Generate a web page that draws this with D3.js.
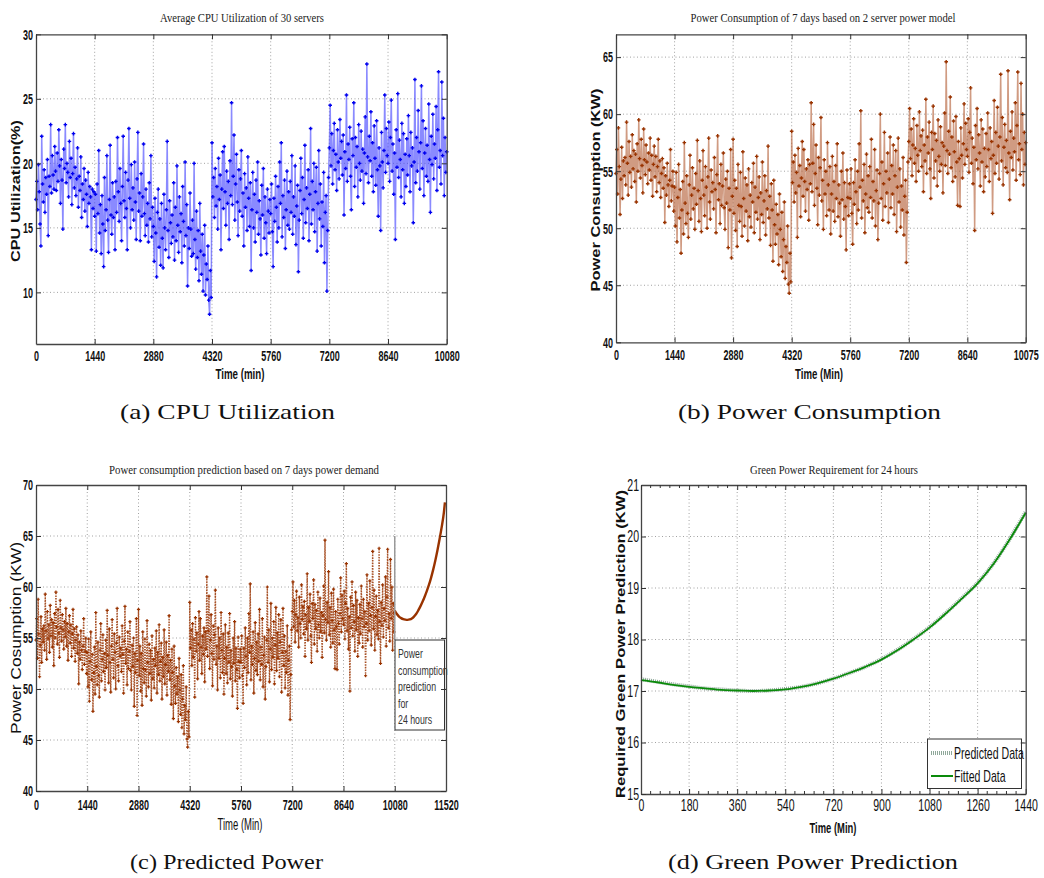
<!DOCTYPE html>
<html><head><meta charset="utf-8">
<script src="https://cdn.jsdelivr.net/npm/d3@7"></script>
<style>
html,body{margin:0;padding:0;background:#fff;}
svg{display:block;}
</style></head>
<body>
<svg id="c" width="1044" height="878"></svg>
<script>
// ---------------- DATA ----------------
const cpuTicksX = [0,1440,2880,4320,5760,7200,8640,10080];
const cpuTicksY = [10,15,20,25,30];
// Average CPU utilization (%) sampled every 20 min, 7 days (72 per day)
const cpuDay1 = [17.2,18.6,16.4,19.9,17.8,15.3,13.6,22.1,18.4,17.0,19.5,16.2,18.9,17.6,20.3,14.4,19.0,18.2,23.0,17.7,20.6,19.1,18.0,21.3,
 19.4,17.9,20.8,18.6,22.6,19.8,16.9,20.3,18.7,14.9,21.1,19.6,23.0,18.5,20.0,19.3,17.4,21.7,18.9,20.4,16.8,19.2,22.3,18.1,
 19.7,17.5,18.8,21.2,16.6,19.0,17.9,20.5,15.8,18.4,17.2,19.6,16.3,18.7,17.6,15.1,19.3,16.9,18.2,17.4,13.3,18.0,16.5,17.8];
const cpuDay2 = [15.9,17.6,13.2,18.4,16.1,21.0,14.6,16.8,13.0,17.5,15.3,12.0,18.9,14.8,16.4,20.6,15.6,13.1,17.2,21.4,16.0,14.5,18.5,15.8,
 17.4,13.3,18.6,16.2,22.0,17.8,15.5,19.6,16.9,14.0,18.2,22.1,17.1,15.8,19.3,16.5,13.3,18.7,22.7,17.3,15.0,19.9,16.4,18.1,
 15.6,20.1,17.0,14.1,18.8,22.4,16.3,17.7,14.0,19.2,15.9,17.4,21.5,16.1,14.4,18.0,15.2,16.9,13.9,18.5,15.7,20.6,14.3,16.6];
const cpuDay3 = [15.1,12.4,17.3,14.6,11.2,16.2,18.0,13.5,15.7,12.1,16.9,14.2,11.9,17.6,15.0,13.3,16.4,21.7,14.8,12.7,17.1,15.4,13.8,16.0,
 14.3,18.5,12.5,16.6,14.0,19.8,15.2,13.1,17.4,14.7,16.1,12.3,18.2,15.5,13.6,20.1,14.4,16.8,10.5,15.0,13.4,17.7,14.9,12.8,
 15.6,13.0,20.0,14.1,11.8,16.3,12.7,14.8,10.9,16.9,13.2,11.4,14.5,10.1,12.9,15.2,9.8,12.2,11.0,13.6,9.4,8.3,11.7,9.6];
const cpuDay4 = [21.6,17.4,18.9,15.8,19.6,16.7,18.2,14.9,20.4,17.2,19.1,13.3,18.0,20.9,16.5,21.3,17.8,15.2,19.4,16.9,18.6,14.1,20.2,17.5,
 24.7,16.8,19.0,22.2,15.6,18.4,20.7,17.0,14.4,19.5,16.3,18.8,21.0,15.9,17.7,13.6,19.2,16.6,18.1,14.8,20.5,17.3,15.1,18.5,
 11.7,16.4,19.3,15.0,17.6,13.9,18.7,16.2,20.1,14.5,17.1,15.7,12.9,18.3,16.0,19.6,14.2,17.4,15.4,13.0,18.0,16.3,14.6,17.2];
const cpuDay5 = [16.1,18.4,14.7,12.0,17.3,15.5,19.0,16.6,13.9,18.2,15.0,20.1,16.9,21.6,14.3,17.5,15.8,18.7,13.4,16.4,19.4,15.2,17.8,14.9,
 18.6,16.2,20.6,14.5,17.4,15.9,19.8,13.7,16.7,18.3,11.6,15.6,17.9,20.4,16.1,18.9,14.2,17.2,21.4,15.4,18.1,16.5,19.5,14.0,
 17.6,22.7,15.3,18.6,16.4,20.0,14.7,17.8,19.7,13.2,16.9,21.0,15.7,18.4,13.6,17.0,15.1,19.3,12.3,16.2,17.5,10.1,14.8,18.9];
const cpuDay6 = [21.2,24.5,19.8,22.3,18.4,21.0,23.1,19.5,20.7,17.9,22.6,20.1,18.8,23.4,20.4,21.7,19.1,22.2,16.0,20.9,19.6,25.3,18.6,21.5,
 20.3,22.8,19.0,16.4,21.9,20.6,24.7,18.2,22.0,19.7,21.3,17.4,23.0,20.0,18.7,22.5,19.4,21.1,16.9,20.8,23.6,19.2,27.7,20.5,
 18.5,22.1,20.2,24.0,19.0,21.6,17.8,22.9,20.4,18.3,23.3,19.5,15.9,21.2,19.8,14.8,22.4,20.1,18.1,21.0,25.3,19.3,22.7,20.6];
const cpuDay7 = [20.0,23.2,18.6,22.0,24.9,19.4,21.5,17.6,20.8,14.1,22.6,19.7,25.4,18.9,21.8,20.3,17.4,23.1,19.5,22.3,16.9,20.7,18.2,21.9,
 19.1,23.7,20.6,17.8,22.4,19.8,21.2,15.4,20.1,26.5,18.5,22.0,19.4,24.1,20.9,18.0,21.6,26.0,19.6,23.3,17.5,20.8,22.7,19.0,
 21.4,18.6,24.6,20.3,16.2,22.1,19.9,23.8,18.8,21.5,20.4,24.4,17.9,22.6,27.1,19.7,21.0,18.4,26.3,20.6,23.5,17.5,22.0,19.3,20.9];

const powTicksX = [0,1440,2880,4320,5760,7200,8640,10075];
const powTicksY = [40,45,50,55,60,65];
// Power consumption (KW) sampled every 20 min, 7 days (72 per day)
const powDay1 = [54.8,56.9,53.0,58.8,55.4,51.2,54.3,57.1,52.6,55.9,54.6,56.2,53.8,59.3,55.7,52.9,57.6,54.9,56.3,53.6,58.2,55.2,56.8,54.1,
 56.5,52.3,57.4,55.0,59.5,56.1,54.4,57.8,55.5,53.1,58.7,56.0,54.7,57.3,55.8,53.9,56.6,55.1,57.9,54.2,56.4,52.8,55.6,57.2,
 54.5,56.3,53.2,55.4,57.8,54.0,55.9,52.7,54.8,56.1,53.5,55.3,50.5,54.6,52.9,55.7,53.8,51.9,54.2,56.9,52.4,53.7,55.0,51.5];
const powDay2 = [53.6,50.2,54.9,48.8,52.7,55.6,50.9,53.4,47.8,51.6,54.1,49.5,57.5,52.2,50.4,54.6,51.3,49.2,53.8,56.4,50.8,52.9,55.3,51.7,
 53.5,49.9,54.8,52.1,57.7,53.3,50.6,55.9,52.6,49.7,54.2,56.8,52.9,51.1,55.4,53.6,50.0,54.5,57.9,52.3,50.8,55.1,53.2,54.0,
 51.7,56.2,53.4,49.6,54.7,58.1,52.5,53.9,50.4,55.6,52.0,53.7,56.6,51.8,49.9,54.3,52.2,55.0,48.3,53.5,51.6,56.9,47.4,52.8];
const powDay3 = [57.8,51.3,54.2,49.8,53.5,48.4,55.6,52.0,50.6,54.9,51.9,49.3,56.7,52.6,50.2,54.4,51.5,53.8,48.9,55.2,51.0,52.9,50.1,54.0,
 52.3,55.7,49.6,53.6,51.4,56.3,50.8,52.7,54.5,49.0,53.1,51.2,55.8,50.5,52.4,54.6,49.4,53.3,51.7,57.2,50.9,52.8,48.5,53.9,
 51.6,47.1,54.2,50.3,48.6,52.1,49.5,51.2,46.8,53.0,49.9,47.5,51.4,46.2,49.0,52.3,45.6,48.4,47.0,50.2,45.1,44.3,47.8,45.3];
const powDay4 = [58.5,54.0,55.8,52.3,56.4,53.1,54.9,49.2,57.0,53.7,55.5,51.0,54.4,57.6,52.8,56.9,54.1,51.5,55.2,53.4,56.0,50.7,55.6,53.9,
 61.0,53.2,55.7,59.1,52.0,54.8,57.3,53.5,50.3,56.2,52.9,55.3,59.7,52.4,54.2,49.9,56.0,53.0,55.0,51.1,57.5,53.8,51.6,55.4,
 49.5,53.0,56.3,51.5,54.1,50.6,55.5,52.6,57.4,51.0,53.8,52.2,49.3,55.0,52.5,56.6,50.8,54.0,51.9,48.1,55.1,52.7,51.1,53.9];
const powDay5 = [52.6,55.2,51.3,48.6,54.0,52.1,56.0,53.2,50.4,55.0,51.6,57.4,53.6,60.3,50.9,54.2,52.4,55.6,49.6,53.0,56.5,51.8,54.6,51.4,
 55.4,52.7,57.8,50.9,54.1,52.4,56.9,50.2,53.3,55.1,49.0,52.2,54.8,60.0,52.6,55.8,50.7,53.9,58.4,51.9,55.0,53.1,56.6,50.5,
 54.3,58.0,51.8,55.5,53.0,57.3,51.2,54.6,56.8,49.7,53.6,57.9,52.3,55.2,50.1,53.7,51.6,56.2,49.4,52.8,54.2,47.0,51.4,55.8];
const powDay6 = [57.6,60.5,56.1,58.7,54.6,57.3,59.6,55.7,57.0,54.1,59.0,56.4,55.0,60.2,56.8,58.1,55.4,58.6,53.2,57.3,55.9,61.3,54.8,58.0,
 56.6,59.3,55.2,52.6,58.4,56.9,60.7,54.4,58.3,55.9,57.7,53.7,59.5,56.3,55.0,58.9,55.6,57.5,53.1,57.2,60.1,55.5,64.6,56.8,
 54.8,58.5,56.5,61.5,55.3,58.0,54.1,59.4,56.7,54.5,59.8,55.8,52.0,57.6,56.1,51.9,58.8,56.4,54.4,57.4,60.9,55.6,59.2,56.9];
const powDay7 = [56.3,59.6,54.9,58.4,62.3,55.7,57.9,53.9,57.1,49.8,59.0,56.0,60.5,55.2,58.2,56.6,53.7,59.5,55.8,58.7,53.2,57.0,54.5,58.3,
 55.4,60.1,56.9,54.1,58.8,56.1,57.6,51.3,56.4,61.2,54.8,58.4,55.7,60.6,57.2,54.3,58.0,63.5,55.9,59.7,53.8,57.1,59.1,55.3,
 57.7,54.9,63.8,56.6,52.5,58.5,56.2,60.2,55.1,57.9,56.7,61.0,54.2,59.0,63.7,56.0,57.4,54.7,62.7,56.9,60.0,53.8,58.4,55.6,57.5];

const predTicksX = [0,1440,2880,4320,5760,7200,8640,10080,11520];
const predTicksY = [40,45,50,55,60,65,70];
// 24-hour power prediction (KW) after minute 10080
const predTime  = [10080,10140,10200,10260,10320,10380,10440,10500,10560,10620,10680,10740,10800,10860,10920,10980,11040,11100,11160,11220,11280,11340,11400,11460,11490];
const predValue = [57.7,57.35,57.1,56.95,56.85,56.8,56.78,56.82,56.92,57.1,57.35,57.7,58.1,58.55,59.05,59.6,60.2,60.9,61.7,62.6,63.6,64.7,65.9,67.3,68.3];
const predNote = ["Power","consumption","prediction","for","24 hours"];

const greenTicksX = [0,180,360,540,720,900,1080,1260,1440];
const greenTicksY = [15,16,17,18,19,20,21];
const greenTime      = [0,60,120,180,240,300,360,420,480,540,600,660,720,780,840,900,960,1020,1080,1140,1200,1260,1320,1380,1440];
const greenPredicted = [17.23,17.18,17.13,17.09,17.05,17.03,17.01,17.00,17.01,17.04,17.08,17.15,17.24,17.35,17.47,17.62,17.80,18.01,18.24,18.51,18.80,19.10,19.48,19.95,20.48];
const greenFitted    = [17.21,17.17,17.12,17.08,17.05,17.02,17.01,17.00,17.01,17.03,17.08,17.15,17.24,17.35,17.47,17.61,17.79,18.00,18.23,18.50,18.79,19.09,19.47,19.94,20.46];
const legendLabels = ["Predicted Data","Fitted Data"];

// ---------------- DRAWING ----------------
const svg = d3.select("#c");
const SANS = '"Liberation Sans",Arial,sans-serif';
const SERIF = '"Liberation Serif","Times New Roman",serif';

function withTimes(days, step, last) {
  const vals = [].concat(...days);
  return vals.map((v,i)=>({t: Math.min(i*step, last), v}));
}
const cpuData = withTimes([cpuDay1,cpuDay2,cpuDay3,cpuDay4,cpuDay5,cpuDay6,cpuDay7], 20, 10080);
const powData = withTimes([powDay1,powDay2,powDay3,powDay4,powDay5,powDay6,powDay7], 20, 10075);

function frame(cfg) {
  const g = svg.append("g");
  const x = d3.scaleLinear().domain(cfg.xd).range([cfg.l, cfg.r]);
  const y = d3.scaleLinear().domain(cfg.yd).range([cfg.b, cfg.t]);
  const gg = g.append("g").attr("stroke","#8a8a8a").attr("stroke-width",0.8).attr("stroke-dasharray","1,2.5");
  cfg.xt.filter(v=>v>cfg.xd[0] && v<cfg.xd[1]).forEach(v=>{
    gg.append("line").attr("x1",x(v)).attr("x2",x(v)).attr("y1",cfg.t).attr("y2",cfg.b);
  });
  cfg.yt.filter(v=>v>cfg.yd[0] && v<cfg.yd[1]).forEach(v=>{
    gg.append("line").attr("x1",cfg.l).attr("x2",cfg.r).attr("y1",y(v)).attr("y2",y(v));
  });
  return {g,x,y};
}

function axes(p, cfg) {
  const {g,x,y} = p;
  const ax = g.append("g");
  const fmt = d=>String(d);
  const sx = cfg.tickScale || 0.6;
  ax.append("g").attr("transform",`translate(0,${cfg.b})`)
    .call(d3.axisBottom(x).tickValues(cfg.xt).tickSizeInner(-5).tickSizeOuter(0).tickPadding(cfg.xpad||7).tickFormat(fmt));
  ax.append("g").attr("transform",`translate(${cfg.l},0)`)
    .call(d3.axisLeft(y).tickValues(cfg.yt).tickSizeInner(-5).tickSizeOuter(0).tickPadding((cfg.ypad||3)/sx).tickFormat(fmt));
  ax.append("g").attr("transform",`translate(0,${cfg.t})`)
    .call(d3.axisTop(x).tickValues(cfg.xt).tickSizeInner(-5).tickSizeOuter(0).tickFormat(""));
  ax.append("g").attr("transform",`translate(${cfg.r},0)`)
    .call(d3.axisRight(y).tickValues(cfg.yt).tickSizeInner(-5).tickSizeOuter(0).tickFormat(""));
  ax.selectAll("path.domain").attr("stroke","#444").attr("stroke-width",1.3);
  ax.selectAll(".tick line").attr("stroke","#333");
  ax.selectAll(".tick text").attr("font-family",SANS).attr("font-size",cfg.tickSize||15)
    .attr("font-weight",cfg.tickWeight||"bold").attr("fill","#111").attr("transform",`scale(${sx},1)`);
  if (cfg.minorX) {
    cfg.minorX.forEach(v=>{
      ax.append("line").attr("x1",x(v)).attr("x2",x(v)).attr("y1",cfg.b).attr("y2",cfg.b-3).attr("stroke","#333");
      ax.append("line").attr("x1",x(v)).attr("x2",x(v)).attr("y1",cfg.t).attr("y2",cfg.t+3).attr("stroke","#333");
    });
  }
}

function labels(cfg) {
  svg.append("text").attr("x",cfg.titleX).attr("y",cfg.titleY).attr("text-anchor","middle")
    .attr("font-family",SERIF).attr("font-size",13).attr("fill","#222")
    .attr("textLength",cfg.titleW).attr("lengthAdjust","spacingAndGlyphs").text(cfg.title);
  svg.append("text").attr("x",cfg.xlX).attr("y",cfg.xlY).attr("text-anchor","middle")
    .attr("font-family",SANS).attr("font-size",cfg.lblSize||15).attr("font-weight",cfg.lblWeight||"bold").attr("fill","#111")
    .attr("textLength",cfg.xlW).attr("lengthAdjust","spacingAndGlyphs").text(cfg.xlabel);
  svg.append("text").attr("transform",`translate(${cfg.ylX},${cfg.ylY}) rotate(-90)`).attr("text-anchor","middle")
    .attr("font-family",SANS).attr("font-size",cfg.ylSize||13).attr("font-weight",cfg.lblWeight||"bold").attr("fill","#111")
    .attr("textLength",cfg.ylW).attr("lengthAdjust","spacingAndGlyphs").text(cfg.ylabel);
}

function plusPath(data, x, y, s) {
  return data.map(d=>`M${x(d.t)-s},${y(d.v)}h${2*s}M${x(d.t)},${y(d.v)-s}v${2*s}`).join("");
}

// ---- (a) CPU ----
const cfgA = {l:36,r:446.7,t:34.3,b:344,xd:[0,10080],yd:[6,30],xt:cpuTicksX,yt:cpuTicksY,xpad:6.5,
  title:"Average CPU Utilization of 30 servers",titleX:242,titleY:22,titleW:164,
  xlabel:"Time (min)",xlX:240,xlY:379,xlW:49,ylabel:"CPU Utilization(%)",ylX:20,ylY:191,ylW:142};
const pA = frame(cfgA);
pA.g.append("path").attr("d",d3.line().x(d=>pA.x(d.t)).y(d=>pA.y(d.v))(cpuData))
  .attr("fill","none").attr("stroke","#3c3cff").attr("stroke-width",1.5).attr("stroke-opacity",0.6);
pA.g.append("path").attr("d",plusPath(cpuData,pA.x,pA.y,1.8)).attr("stroke","#0000ee").attr("stroke-width",1.4);
axes(pA,cfgA); labels(cfgA);

// ---- (b) Power ----
const cfgB = {l:616,r:1025.7,t:34.3,b:342.3,xd:[0,10075],yd:[40,67],xt:powTicksX,yt:powTicksY,xpad:7.5,
  title:"Power Consumption of 7 days based on 2 server power model",titleX:823,titleY:22,titleW:265,
  xlabel:"Time (Min)",xlX:819,xlY:379,xlW:48,ylabel:"Power Consumption (KW)",ylX:600,ylY:190,ylW:203};
const pB = frame(cfgB);
pB.g.append("path").attr("d",d3.line().x(d=>pB.x(d.t)).y(d=>pB.y(d.v))(powData))
  .attr("fill","none").attr("stroke","#b0582e").attr("stroke-width",1.5).attr("stroke-opacity",0.6);
pB.g.append("path").attr("d",plusPath(powData,pB.x,pB.y,1.8)).attr("stroke","#993300").attr("stroke-width",1.4);
axes(pB,cfgB); labels(cfgB);

// ---- (c) Prediction ----
const cfgC = {l:36,r:446,t:485,b:791,xd:[0,11520],yd:[40,70],xt:predTicksX,yt:predTicksY,xpad:8,
  title:"Power consumption prediction based on 7 days power demand",titleX:244,titleY:474,titleW:270,
  xlabel:"Time (Min)",xlX:240,xlY:830,xlW:45,lblWeight:"normal",lblSize:16,
  ylabel:"Power Cosumption (KW)",ylX:20.5,ylY:638,ylW:192,ylSize:14};
const pC = frame(cfgC);
pC.g.append("path").attr("d",d3.line().x(d=>pC.x(d.t)).y(d=>pC.y(d.v))(powData))
  .attr("fill","none").attr("stroke","#a85228").attr("stroke-width",1.4).attr("stroke-dasharray","1.5,1.2");
pC.g.append("path").attr("d",plusPath(powData,pC.x,pC.y,1.6)).attr("stroke","#993300").attr("stroke-width",1.2);
const predData = predTime.map((t,i)=>({t, v:predValue[i]}));
pC.g.append("path").attr("d",d3.line().curve(d3.curveMonotoneX).x(d=>pC.x(d.t)).y(d=>pC.y(d.v))(predData))
  .attr("fill","none").attr("stroke","#993300").attr("stroke-width",2.4);
pC.g.append("line").attr("x1",pC.x(10080)).attr("x2",pC.x(10080)).attr("y1",pC.y(65)).attr("y2",640)
  .attr("stroke","#999").attr("stroke-width",1.5);
pC.g.append("rect").attr("x",395).attr("y",640).attr("width",49.5).attr("height",90)
  .attr("fill","#fff").attr("stroke","#333").attr("stroke-width",1);
predNote.forEach((s,i)=>{
  pC.g.append("text").attr("transform",`translate(398,${658+i*16.5}) scale(0.65,1)`)
    .attr("font-family",SANS).attr("font-size",13.5).attr("fill","#333").text(s);
});
axes(pC,cfgC); labels(cfgC);

// ---- (d) Green power ----
const minorD = d3.range(0,1441,36).filter(v=>v%180!==0);
const cfgD = {l:641,r:1025.7,t:485,b:794,xd:[0,1440],yd:[15,21],xt:greenTicksX,yt:greenTicksY,
  title:"Green Power Requirement for 24 hours",titleX:834,titleY:474,titleW:168,
  xlabel:"Time (Min)",xlX:833,xlY:833,xlW:47,ylabel:"Required Green Power Prediction (KW)",ylX:625,ylY:644,ylW:308,
  tickWeight:"normal",tickSize:16,tickScale:0.66,ypad:2,xpad:6,minorX:minorD};
const pD = frame(cfgD);
const gP = greenTime.map((t,i)=>({t,v:greenPredicted[i]}));
const gF = greenTime.map((t,i)=>({t,v:greenFitted[i]}));
const lineD = d3.line().curve(d3.curveMonotoneX).x(d=>pD.x(d.t)).y(d=>pD.y(d.v));
pD.g.append("path").attr("d",lineD(gP)).attr("fill","none").attr("stroke","#8fa89a").attr("stroke-width",4).attr("stroke-dasharray","1,1");
pD.g.append("path").attr("d",lineD(gF)).attr("fill","none").attr("stroke","#0a8a0a").attr("stroke-width",1.8);
const lg = pD.g.append("g");
lg.append("rect").attr("x",927.5).attr("y",739).attr("width",94).attr("height",49.5).attr("fill","#fff").attr("stroke","#333");
lg.append("line").attr("x1",931).attr("x2",953).attr("y1",753).attr("y2",753).attr("stroke","#8fa89a").attr("stroke-width",4).attr("stroke-dasharray","1,1");
lg.append("line").attr("x1",931).attr("x2",953).attr("y1",776).attr("y2",776).attr("stroke","#0a8a0a").attr("stroke-width",2);
legendLabels.forEach((s,i)=>{
  lg.append("text").attr("transform",`translate(954,${758.5+i*23}) scale(0.66,1)`)
    .attr("font-family",SANS).attr("font-size",16).attr("fill","#111").text(s);
});
axes(pD,cfgD); labels(cfgD);

// ---- captions ----
const caps = [
  {s:"(a)  CPU Utilization", x:120, y:419, w:215},
  {s:"(b)  Power Consumption", x:678, y:419, w:263},
  {s:"(c)  Predicted Power", x:130, y:869, w:193},
  {s:"(d)  Green Power Prediction", x:668, y:869, w:290}
];
caps.forEach(c=>{
  svg.append("text").attr("x",c.x).attr("y",c.y).attr("font-family",SERIF).attr("font-size",21)
    .attr("fill","#111").attr("textLength",c.w).attr("lengthAdjust","spacingAndGlyphs").text(c.s);
});
</script>
</body></html>
